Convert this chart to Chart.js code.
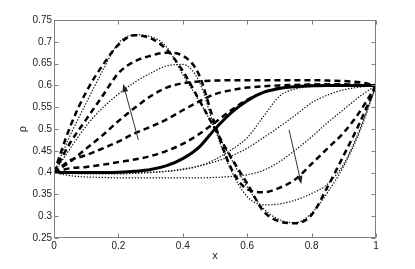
<!DOCTYPE html>
<html>
<head>
<meta charset="utf-8">
<script src="https://cdn.jsdelivr.net/npm/chart.js@4.4.1/dist/chart.umd.min.js"></script>
<style>
  html, body { margin: 0; padding: 0; background: #fff; }
  canvas { display: block; }
</style>
</head>
<body>
<canvas id="rho" width="415" height="269"></canvas>
<script>
// sample positions along x, shared by every curve
const xs = [0, 0.05, 0.1, 0.15, 0.2, 0.25, 0.3, 0.35, 0.4, 0.45, 0.5,
            0.55, 0.6, 0.65, 0.7, 0.75, 0.8, 0.85, 0.9, 0.95, 1];

// initial profile (thick solid)
const initial = [.400, .400, .400, .400, .401, .403, .407, .416, .432, .458, .500,
                 .537, .565, .584, .593, .597, .599, .600, .600, .600, .600];

// dashed family, earliest to latest
const dashed1 = [.400, .410, .413, .418, .424, .430, .438, .450, .466, .488, .515,
                 .543, .567, .584, .594, .599, .601, .602, .602, .601, .600];
const dashed2 = [.400, .428, .440, .455, .471, .490, .505, .522, .543, .563, .580,
                 .589, .595, .598, .600, .601, .602, .602, .602, .601, .600];
const dashed3 = [.400, .425, .455, .485, .518, .548, .575, .595, .605, .609, .611,
                 .612, .612, .612, .612, .612, .612, .611, .610, .607, .600];
const dashed4 = [.400, .468, .522, .575, .628, .655, .668, .675, .668, .625, .510,
                 .410, .362, .355, .365, .385, .420, .456, .492, .540, .600];
const dashed5 = [.400, .505, .585, .645, .693, .715, .708, .682, .633, .568, .500,
                 .435, .375, .312, .288, .284, .303, .368, .440, .515, .600];

// dotted family, earliest to latest
const dotted1 = [.400, .400, .399, .399, .399, .400, .401, .403, .407, .415, .430,
                 .452, .480, .528, .575, .592, .597, .599, .600, .600, .600];
const dotted2 = [.400, .398, .397, .397, .397, .398, .400, .403, .408, .415, .425,
                 .438, .456, .480, .505, .532, .560, .578, .590, .596, .600];
const dotted3 = [.400, .393, .390, .389, .388, .388, .388, .388, .388, .388, .389,
                 .391, .395, .405, .425, .452, .482, .515, .545, .575, .600];
const dotted4 = [.400, .455, .507, .548, .580, .607, .628, .645, .648, .610, .500,
                 .405, .345, .326, .328, .337, .352, .374, .420, .500, .600];
const dotted5 = [.400, .485, .560, .632, .697, .716, .712, .688, .625, .565, .500,
                 .432, .367, .318, .292, .285, .307, .355, .415, .495, .600];

// axis ticks
const xTicks = [0, 0.2, 0.4, 0.6, 0.8, 1];
const xTickLabels = ['0', '0.2', '0.4', '0.6', '0.8', '1'];
const yTicks = [0.25, 0.3, 0.35, 0.4, 0.45, 0.5, 0.55, 0.6, 0.65, 0.7, 0.75];
const yTickLabels = ['0.25', '0.3', '0.35', '0.4', '0.45', '0.5', '0.55', '0.6', '0.65', '0.7', '0.75'];

// time arrows: tail -> head, in data units
const arrowTails = [[0.262, 0.475], [0.730, 0.498]];
const arrowHeads = [[0.215, 0.603], [0.768, 0.374]];

const FONT = "'Liberation Sans', Arial, Helvetica, sans-serif";
const AXIS_GREY = '#808080';

function points(ys) {
    return xs.map((x, i) => ({ x: x, y: ys[i] }));
}

function curve(ys, kind) {
    const ds = {
        data: points(ys),
        borderColor: '#000',
        pointRadius: 0,
        fill: false,
        cubicInterpolationMode: 'monotone',
    };
    if (kind === 'solid') {
        ds.borderWidth = 3;
    } else if (kind === 'dashed') {
        ds.borderWidth = 2.5;
        ds.borderDash = [6, 4];
    } else {
        // fine dotted line
        ds.borderWidth = 1.2;
        ds.borderDash = [1.4, 1.6];
        ds.borderColor = '#111';
    }
    return ds;
}

// MATLAB style box with inward ticks on all four sides
const framePlugin = {
    id: 'frame',
    afterDatasetsDraw(chart) {
        const { ctx, chartArea: a, scales } = chart;
        const l = Math.round(a.left) + 0.5, r = Math.round(a.right) - 0.5;
        const t = Math.round(a.top) + 0.5, b = Math.round(a.bottom) - 0.5;
        const len = 4;
        ctx.save();
        ctx.strokeStyle = AXIS_GREY;
        ctx.lineWidth = 1;
        ctx.beginPath();
        xTicks.forEach(v => {
            const px = Math.round(scales.x.getPixelForValue(v)) + 0.5;
            ctx.moveTo(px, b); ctx.lineTo(px, b - len);
            ctx.moveTo(px, t); ctx.lineTo(px, t + len);
        });
        yTicks.forEach(v => {
            const py = Math.round(scales.y.getPixelForValue(v)) + 0.5;
            ctx.moveTo(l, py); ctx.lineTo(l + len, py);
            ctx.moveTo(r, py); ctx.lineTo(r - len, py);
        });
        ctx.stroke();
        ctx.strokeRect(l, t, r - l, b - t);
        ctx.restore();
    },
};

const arrowPlugin = {
    id: 'arrows',
    afterDatasetsDraw(chart) {
        const { ctx, scales } = chart;
        ctx.save();
        arrowTails.forEach((tail, i) => {
            const head = arrowHeads[i];
            const x0 = scales.x.getPixelForValue(tail[0]);
            const y0 = scales.y.getPixelForValue(tail[1]);
            const x1 = scales.x.getPixelForValue(head[0]);
            const y1 = scales.y.getPixelForValue(head[1]);
            const ang = Math.atan2(y1 - y0, x1 - x0);
            const hl = 8, hw = 3;
            const bx = x1 - hl * Math.cos(ang), by = y1 - hl * Math.sin(ang);
            ctx.strokeStyle = '#333';
            ctx.lineWidth = 1;
            ctx.beginPath();
            ctx.moveTo(x0, y0);
            ctx.lineTo(bx, by);
            ctx.stroke();
            ctx.fillStyle = '#222';
            ctx.beginPath();
            ctx.moveTo(x1, y1);
            ctx.lineTo(bx + hw * Math.sin(ang), by - hw * Math.cos(ang));
            ctx.lineTo(bx - hw * Math.sin(ang), by + hw * Math.cos(ang));
            ctx.closePath();
            ctx.fill();
        });
        ctx.restore();
    },
};

const ctx = document.getElementById('rho').getContext('2d');
const chart = new Chart(ctx, {
    type: 'line',
    data: {
        datasets: [
            curve(initial, 'solid'),
            curve(dashed1, 'dashed'),
            curve(dashed2, 'dashed'),
            curve(dashed3, 'dashed'),
            curve(dashed4, 'dashed'),
            curve(dashed5, 'dashed'),
            curve(dotted1, 'dotted'),
            curve(dotted2, 'dotted'),
            curve(dotted3, 'dotted'),
            curve(dotted4, 'dotted'),
            curve(dotted5, 'dotted'),
        ],
    },
    options: {
        responsive: false,
        devicePixelRatio: 1,
        animation: false,
        layout: { padding: { top: 20, right: 39, left: 0, bottom: 0 } },
        plugins: {
            legend: { display: false },
            tooltip: { enabled: false },
        },
        scales: {
            x: {
                type: 'linear',
                min: 0,
                max: 1,
                afterBuildTicks: (scale) => { scale.ticks = xTicks.map(v => ({ value: v })); },
                afterFit: (scale) => { scale.height = 31; },
                grid: { display: false, drawTicks: false },
                border: { display: false },
                ticks: {
                    autoSkip: false,
                    maxRotation: 0,
                    padding: 2,
                    color: '#222',
                    font: { family: FONT, size: 10 },
                    callback: (v, i) => xTickLabels[i],
                },
                title: {
                    display: true,
                    text: 'x',
                    color: '#222',
                    font: { family: FONT, size: 11 },
                    padding: { top: 0, bottom: 6 },
                },
            },
            y: {
                min: 0.25,
                max: 0.75,
                afterBuildTicks: (scale) => { scale.ticks = yTicks.map(v => ({ value: v })); },
                afterFit: (scale) => { scale.width = 54; },
                grid: { display: false, drawTicks: false },
                border: { display: false },
                ticks: {
                    autoSkip: false,
                    padding: 2,
                    color: '#222',
                    font: { family: FONT, size: 10 },
                    callback: (v, i) => yTickLabels[i],
                },
                title: {
                    display: true,
                    text: 'ρ',
                    color: '#222',
                    font: { family: FONT, size: 11 },
                    padding: { top: 16, bottom: 0 },
                },
            },
        },
    },
    plugins: [framePlugin, arrowPlugin],
});
</script>
</body>
</html>
